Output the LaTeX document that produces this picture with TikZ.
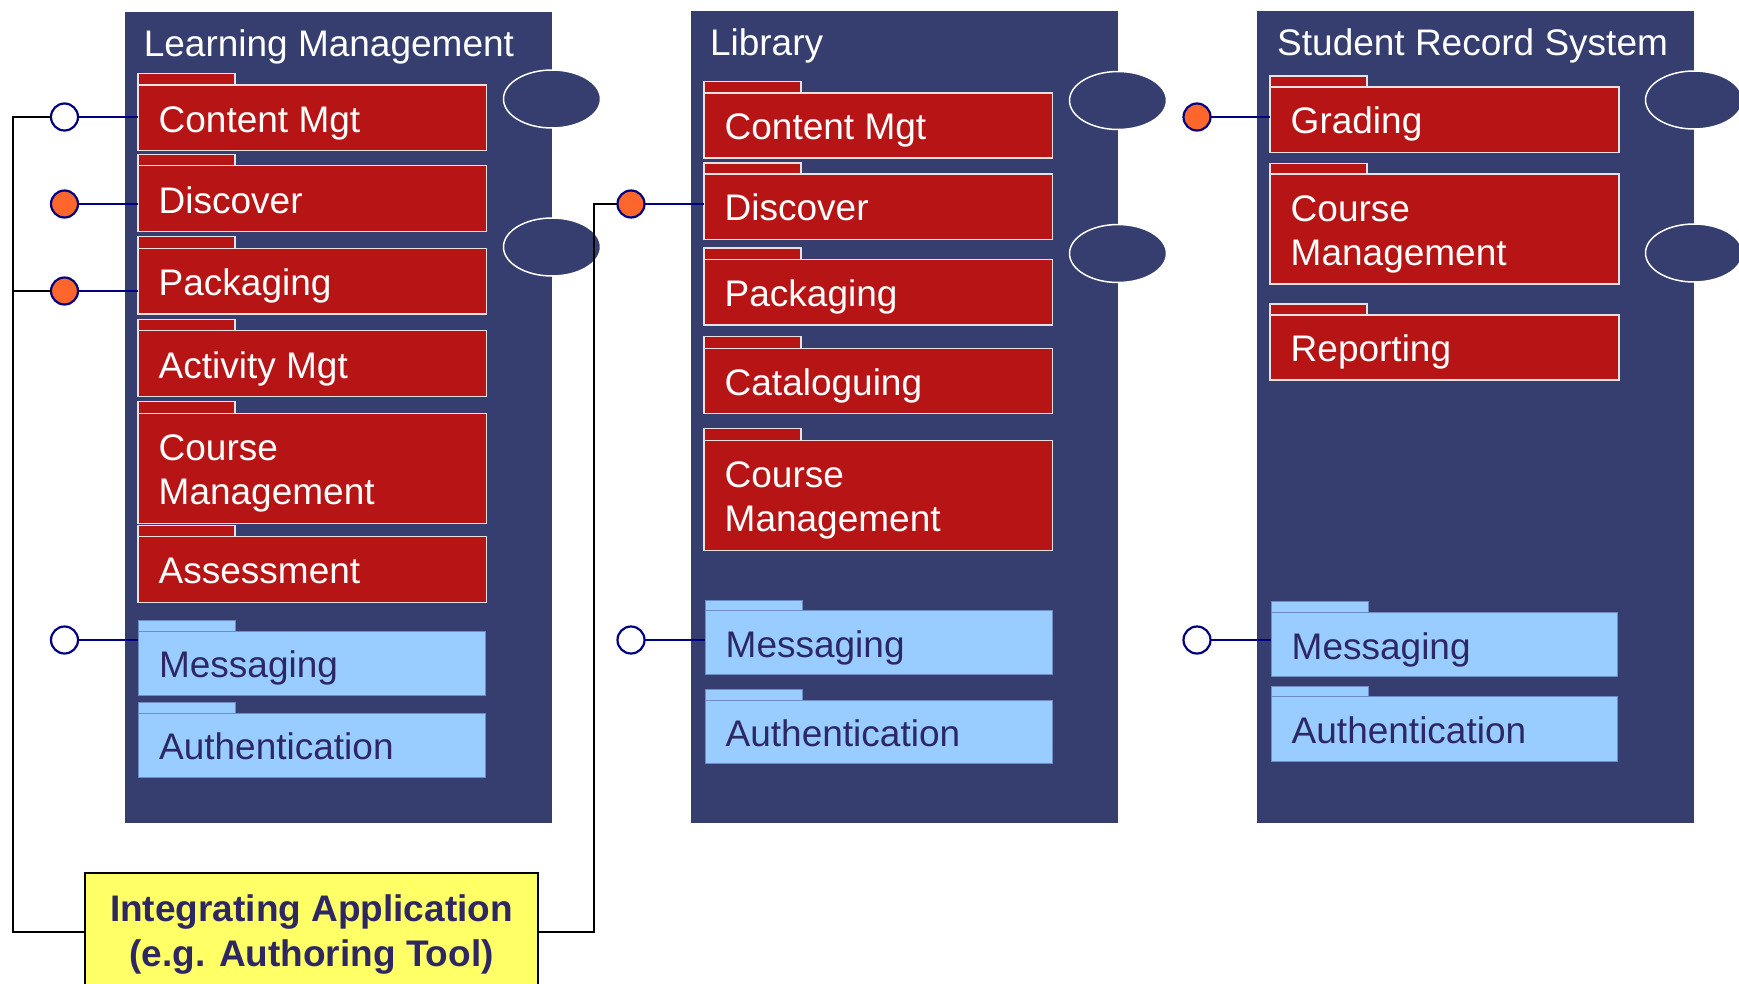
\documentclass[tikz,border=0pt]{standalone}
\usepackage{fontspec}
\setmainfont{Liberation Sans}
\usetikzlibrary{shapes.geometric,calc}
\definecolor{panelc}{RGB}{53,62,110}
\definecolor{redc}{RGB}{183,20,22}
\definecolor{redline}{RGB}{235,225,225}
\definecolor{bluec}{RGB}{153,204,255}
\definecolor{blueline}{RGB}{110,140,200}
\definecolor{navyt}{RGB}{45,40,100}
\definecolor{navyl}{RGB}{0,0,128}
\definecolor{orangec}{RGB}{255,102,43}
\definecolor{yellowc}{RGB}{255,255,102}
\tikzset{
  panel/.style={fill=panelc, draw=none, inner sep=0pt, outer sep=0pt},
  ptitle/.style={text=white, font=\fontsize{37}{44}\selectfont, inner sep=0pt, anchor=base west},
  redtab/.style={fill=redc, draw=redline, line width=1.3pt, inner sep=0pt, outer sep=0pt},
  redbox/.style={redtab},
  redtext/.style={text=white, font=\fontsize{37}{44}\selectfont, inner sep=0pt, align=left},
  bluetab/.style={fill=bluec, draw=blueline, line width=1pt, inner sep=0pt, outer sep=0pt},
  bluebox/.style={bluetab},
  bluetext/.style={text=navyt, font=\fontsize{37}{44}\selectfont, inner sep=0pt, align=left},
  port/.style={ellipse, fill=panelc, draw=white, line width=1.5pt, minimum width=97pt, minimum height=58pt, inner sep=0pt},
  iface/.style={circle, draw=navyl, line width=2.2pt, fill=white, minimum size=27pt, inner sep=0pt, outer sep=0pt},
  ifacefull/.style={iface, fill=orangec},
  wire/.style={draw=navyl, line width=2pt},
  bus/.style={draw=black, line width=2pt},
  app/.style={fill=yellowc, draw=black, line width=2.8pt, minimum width=453pt, minimum height=117.4pt, inner sep=0pt},
  apptext/.style={text=navyt, font=\bfseries\fontsize{37}{45}\selectfont, align=center, inner sep=0pt}
}
\newcommand\pkg[8]{%
  \node[#2tab, anchor=north west, minimum width=97pt, minimum height={(#6-#5)*1pt}] (#1tab) at (#3,#5) {};
  \node[#2box, anchor=north west, minimum width={(#4-#3)*1pt}, minimum height={(#7-#6)*1pt}] (#1) at (#3,#6) {};
  \node[#2text, anchor=west] (#1txt) at ([xshift=20.5pt,yshift=-5.5pt]#1.west) {\strut #8};
}
\begin{document}
\begin{tikzpicture}[x=1pt,y=-1pt]
\useasboundingbox (0,0) rectangle (1739,983);
\clip (0,0) rectangle (1739,983);

% panels
\node[panel, anchor=north west, minimum width=426.5pt, minimum height=810.5pt] (lpanel) at (125,12) {};
\node[panel, anchor=north west, minimum width=427pt, minimum height=812pt] (mpanel) at (690.7,10.7) {};
\node[panel, anchor=north west, minimum width=437.4pt, minimum height=812pt] (rpanel) at (1256.6,11) {};
\node[ptitle] (ltitle) at (143.6,56.5) {Learning Management};
\node[ptitle] (mtitle) at (709.8,55.5) {Library};
\node[ptitle] (rtitle) at (1277,55.5) {Student Record System};

% ports
\node[port] (lp1) at (552,99) {};
\node[port] (lp2) at (552,247) {};
\node[port] (mp1) at (1118,100.5) {};
\node[port] (mp2) at (1118,253.5) {};
\node[port] (rp1) at (1694,100) {};
\node[port] (rp2) at (1694,253) {};

% packages: left
\pkg{lcm}{red}{138}{486.5}{73.3}{85}{150.7}{Content Mgt}
\pkg{ldis}{red}{138}{486.5}{154.3}{165.7}{231.7}{Discover}
\pkg{lpak}{red}{138}{486.5}{236.7}{248.3}{314}{Packaging}
\pkg{lact}{red}{138}{486.5}{319.3}{330.7}{396.7}{Activity Mgt}
\pkg{lcou}{red}{138}{486.5}{401.7}{413.3}{523.3}{Course\\\strut Management}
\pkg{lass}{red}{138}{486.5}{525.7}{536.7}{602.3}{Assessment}
\pkg{lmsg}{blue}{138.4}{485.6}{620}{631}{695}{Messaging}
\pkg{laut}{blue}{138.4}{485.6}{702.3}{713.3}{777.3}{Authentication}
% middle
\pkg{mcm}{red}{704}{1052.7}{81.4}{92.9}{157.9}{Content Mgt}
\pkg{mdis}{red}{704}{1052.7}{162.9}{173.9}{239.3}{Discover}
\pkg{mpak}{red}{704}{1052.7}{247.9}{259.6}{325}{Packaging}
\pkg{mcat}{red}{704}{1052.7}{336.8}{348.2}{413.6}{Cataloguing}
\pkg{mcou}{red}{704}{1052.7}{428.6}{440.4}{550.7}{Course\\\strut Management}
\pkg{mmsg}{blue}{705}{1052}{600}{610.7}{674.7}{Messaging}
\pkg{maut}{blue}{705}{1052}{689}{700}{763.7}{Authentication}
% right
\pkg{rgra}{red}{1270}{1619}{76}{87}{152.3}{Grading}
\pkg{rcou}{red}{1270}{1619}{163.3}{174}{284}{Course\\\strut Management}
\pkg{rrep}{red}{1270}{1619}{304}{315}{380}{Reporting}
\pkg{rmsg}{blue}{1271}{1617}{601.7}{612.7}{676.7}{Messaging}
\pkg{raut}{blue}{1271}{1617}{686.3}{696.7}{761.7}{Authentication}

% interfaces
\node[iface] (lc1) at (64.5,117) {};
\node[ifacefull] (lc2) at (64.5,204) {};
\node[ifacefull] (lc3) at (64.5,291) {};
\node[iface] (lc4) at (64.5,640) {};
\node[ifacefull] (mc1) at (631,204) {};
\node[iface] (mc2) at (631,640) {};
\node[ifacefull] (rc1) at (1197,117) {};
\node[iface] (rc2) at (1197,640) {};

\draw[wire] (lc1.east) -- (lc1.east -| lcm.west);
\draw[wire] (lc2.east) -- (lc2.east -| ldis.west);
\draw[wire] (lc3.east) -- (lc3.east -| lpak.west);
\draw[wire] (lc4.east) -- (lc4.east -| lmsg.west);
\draw[wire] (mc1.east) -- (mc1.east -| mdis.west);
\draw[wire] (mc2.east) -- (mc2.east -| mmsg.west);
\draw[wire] (rc1.east) -- (rc1.east -| rgra.west);
\draw[wire] (rc2.east) -- (rc2.east -| rmsg.west);

% integrating application
\node[app] (ia) at (311.5,931.7) {};
\node[apptext] (iatxt) at (311.5,935.2) {\strut Integrating Application\\\strut (e.g. Authoring Tool)};

\coordinate (lbus) at (13.4,117);
\coordinate (rbus) at (594,204);
\draw[bus] (lc1.west) -- (lbus) |- (ia.west);
\draw[bus] (lc3.west) -- (lc3.west -| lbus);
\draw[bus] (ia.east) -| (rbus) -- (mc1.west);
\end{tikzpicture}
\end{document}
